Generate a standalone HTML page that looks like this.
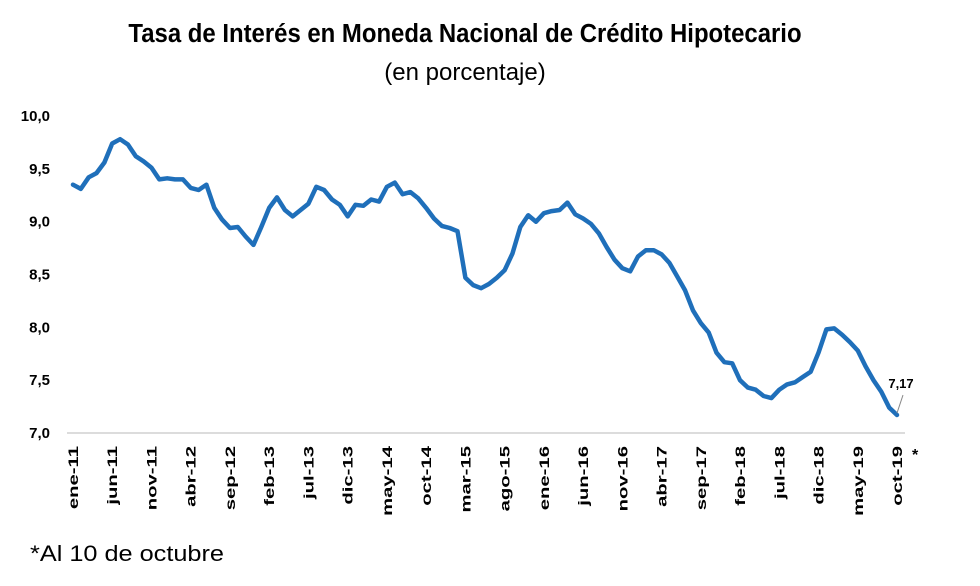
<!DOCTYPE html>
<html><head><meta charset="utf-8">
<style>
body{margin:0;background:#fff;}
svg{display:block;font-family:"Liberation Sans",sans-serif;}
</style></head>
<body>
<svg id="chart" width="980" height="586">
<text x="465" y="42" text-anchor="middle" font-size="26" font-weight="bold" transform="translate(465 0) scale(0.92 1) translate(-465 0)">Tasa de Interés en Moneda Nacional de Crédito Hipotecario</text>
<text x="465" y="80" text-anchor="middle" font-size="24">(en porcentaje)</text>
<line x1="67" y1="433" x2="905" y2="433" stroke="#d0d0d0" stroke-width="1.5"/>
<g id="yticks"></g>
<g id="xticks"></g>
<path id="series" fill="none" stroke="#1f6fba" stroke-width="4.5" stroke-linejoin="round" stroke-linecap="round"/>
<line id="callout" stroke="#888" stroke-width="1"/>
<text id="lastlbl" font-size="13" font-weight="bold" text-anchor="middle">7,17</text>
<text x="912" y="460" font-size="16" font-weight="bold">*</text>
<text x="30" y="561" font-size="22" transform="translate(30 0) scale(1.15 1) translate(-30 0)">*Al 10 de octubre</text>
</svg>
<script>
const values=[9.35,9.31,9.42,9.46,9.56,9.74,9.78,9.73,9.62,9.57,9.51,9.40,9.41,9.40,9.40,9.32,9.30,9.35,9.13,9.02,8.94,8.95,8.86,8.78,8.95,9.13,9.23,9.11,9.05,9.11,9.17,9.33,9.30,9.21,9.16,9.05,9.16,9.15,9.21,9.19,9.33,9.37,9.26,9.28,9.22,9.13,9.03,8.96,8.94,8.91,8.47,8.40,8.37,8.41,8.47,8.54,8.70,8.95,9.06,9.00,9.08,9.10,9.11,9.18,9.07,9.03,8.98,8.89,8.76,8.64,8.56,8.53,8.67,8.73,8.73,8.69,8.61,8.48,8.35,8.16,8.04,7.95,7.76,7.67,7.66,7.50,7.43,7.41,7.35,7.33,7.41,7.46,7.48,7.53,7.58,7.76,7.98,7.99,7.93,7.86,7.78,7.63,7.50,7.39,7.24,7.17];
const months=["ene","feb","mar","abr","may","jun","jul","ago","sep","oct","nov","dic"];
const yTickValues=[7.0,7.5,8.0,8.5,9.0,9.5,10.0];
const lastLabel="7,17";
const NS="http://www.w3.org/2000/svg";
const x0=73,x1=897,yTop=116,yBot=433,vMin=7,vMax=10;
function xs(i){return x0+(x1-x0)*i/(values.length-1);}
function ys(v){return yBot-(v-vMin)/(vMax-vMin)*(yBot-yTop);}
const yg=document.getElementById('yticks');
yTickValues.forEach(v=>{
  const t=document.createElementNS(NS,'text');
  t.setAttribute('x',50);t.setAttribute('y',ys(v)+5);
  t.setAttribute('text-anchor','end');t.setAttribute('font-size','15');t.setAttribute('font-weight','bold');
  t.textContent=v.toFixed(1).replace('.',',');
  
  
  yg.appendChild(t);
});
const xg=document.getElementById('xticks');
for(let i=0;i<values.length;i+=5){
  const m=i%12,yr=11+Math.floor(i/12);
  const t=document.createElementNS(NS,'text');
  const x=xs(i)+5;
  t.setAttribute('transform','translate('+x+' 446) rotate(-90) scale(1.45 1)');
  t.setAttribute('text-anchor','end');t.setAttribute('font-size','14');t.setAttribute('font-weight','bold');
  t.textContent=months[m]+'-'+yr;
  
  
  xg.appendChild(t);
}
let d='';
values.forEach((v,i)=>{d+=(i?'L':'M')+xs(i).toFixed(1)+' '+ys(v).toFixed(1);});
document.getElementById('series').setAttribute('d',d);
const li=values.length-1,lx=xs(li),ly=ys(values[li]);
const c=document.getElementById('callout');
c.setAttribute('x1',lx);c.setAttribute('y1',ly-2);c.setAttribute('x2',lx+6);c.setAttribute('y2',ly-20);
const lb=document.getElementById('lastlbl');
lb.setAttribute('x',lx+4);lb.setAttribute('y',ly-27);lb.textContent=lastLabel;
</script>
</body></html>
